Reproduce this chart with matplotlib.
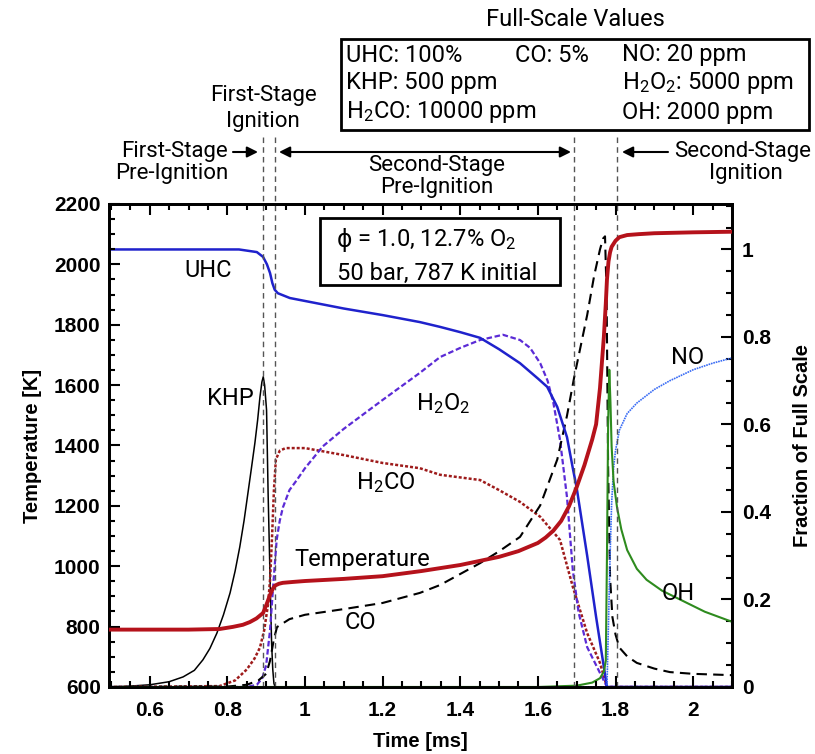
import matplotlib
matplotlib.use('Agg')
import matplotlib.pyplot as plt
from matplotlib.ticker import MultipleLocator
from matplotlib.patches import Rectangle, FancyArrowPatch

# ---------------- data ----------------
temp_t = [0.495, 0.6, 0.7, 0.78, 0.814, 0.84, 0.858, 0.875, 0.892, 0.90, 0.91, 0.917, 0.923, 0.933,
          0.943, 0.97, 1.0, 1.1, 1.2, 1.3, 1.4, 1.5, 1.55, 1.6, 1.62, 1.64, 1.66, 1.68, 1.70, 1.72,
          1.74, 1.75, 1.76, 1.77, 1.775, 1.778, 1.782, 1.786, 1.79, 1.80, 1.81, 1.83, 1.86, 1.9,
          2.0, 2.1]
temp_K = [790, 790, 790, 792, 799, 806, 815, 827, 845, 870, 905, 925, 936, 942,
          945, 948, 951, 958, 967, 984, 1004, 1031, 1050, 1077, 1095, 1118, 1150, 1198, 1262, 1335,
          1420, 1470, 1590, 1760, 1870, 1950, 2010, 2040, 2058, 2078, 2090, 2097, 2100, 2103,
          2106, 2108]

uhc_t = [0.495, 0.83, 0.876, 0.892, 0.902, 0.91, 0.916, 0.922, 0.93, 0.961, 1.1, 1.2, 1.296,
         1.348, 1.4, 1.451, 1.5, 1.554, 1.6, 1.624, 1.65, 1.675, 1.69, 1.7, 1.727, 1.75, 1.778, 2.1]
uhc_f = [1.0, 1.0, 0.994, 0.983, 0.966, 0.946, 0.923, 0.908, 0.900, 0.889, 0.865, 0.850, 0.834,
         0.823, 0.811, 0.798, 0.772, 0.74, 0.705, 0.686, 0.64, 0.571, 0.50, 0.455, 0.30, 0.16, 0.0, 0.0]

khp_t = [0.495, 0.55, 0.6, 0.65, 0.686, 0.715, 0.737, 0.755, 0.773, 0.79, 0.807, 0.82, 0.832,
         0.843, 0.853, 0.862, 0.871, 0.878, 0.884, 0.889, 0.8925, 0.896, 0.901, 0.905, 0.91,
         0.914, 0.917, 0.92, 0.923, 2.1]
khp_f = [0.0, 0.002, 0.005, 0.012, 0.023, 0.038, 0.062, 0.088, 0.123, 0.165, 0.215, 0.265, 0.32,
         0.38, 0.443, 0.5, 0.558, 0.61, 0.663, 0.697, 0.709, 0.69, 0.633, 0.443, 0.25,
         0.10, 0.04, 0.008, 0.0, 0.0]

co_t = [0.495, 0.8, 0.85, 0.88, 0.9, 0.91, 0.92, 0.928, 0.96, 1.0, 1.1, 1.2, 1.296, 1.348, 1.451,
        1.5, 1.554, 1.606, 1.65, 1.675, 1.694, 1.727, 1.745, 1.76, 1.768, 1.773, 1.777, 1.781,
        1.786, 1.792, 1.80, 1.81, 1.83, 1.855, 1.9, 1.94, 2.0, 2.1]
co_f = [0.0, 0.001, 0.005, 0.015, 0.03, 0.06, 0.11, 0.137, 0.155, 0.165, 0.178, 0.192, 0.215, 0.233,
        0.283, 0.31, 0.343, 0.415, 0.52, 0.62, 0.71, 0.85, 0.94, 1.0, 1.025, 1.03, 0.9, 0.5,
        0.25, 0.16, 0.12, 0.09, 0.07, 0.055, 0.042, 0.034, 0.03, 0.027]

h2co_t = [0.495, 0.78, 0.82, 0.85, 0.87, 0.884, 0.895, 0.905, 0.91, 0.915, 0.92, 0.925, 0.935, 0.95,
          1.0, 1.1, 1.2, 1.296, 1.348, 1.451, 1.5, 1.554, 1.606, 1.657, 1.69, 1.727, 1.76, 1.778, 2.1]
h2co_f = [0.0, 0.002, 0.015, 0.04, 0.065, 0.09, 0.13, 0.19, 0.245, 0.34, 0.45, 0.52, 0.54, 0.546,
          0.546, 0.53, 0.512, 0.50, 0.485, 0.473, 0.45, 0.423, 0.389, 0.336, 0.229, 0.123, 0.055, 0.0, 0.0]

h2o2_t = [0.495, 0.85, 0.876, 0.89, 0.9, 0.91, 0.918, 0.927, 0.935, 0.943, 0.96, 0.979, 1.0, 1.046,
          1.1, 1.2, 1.296, 1.348, 1.4, 1.451, 1.51, 1.554, 1.58, 1.606, 1.625, 1.64, 1.657, 1.675,
          1.69, 1.705, 1.727, 1.76, 1.778, 2.1]
h2o2_f = [0.0, 0.0, 0.005, 0.02, 0.05, 0.13, 0.23, 0.336, 0.38, 0.41, 0.45, 0.473, 0.50, 0.55,
          0.59, 0.656, 0.718, 0.754, 0.775, 0.793, 0.805, 0.793, 0.775, 0.74, 0.70, 0.649, 0.565, 0.434,
          0.267, 0.17, 0.091, 0.032, 0.0, 0.0]

no_t = [0.495, 1.778, 1.782, 1.786, 1.79, 1.795, 1.80, 1.81, 1.83, 1.855, 1.9, 1.94, 2.0, 2.05, 2.1]
no_f = [0.0, 0.0, 0.15, 0.3, 0.42, 0.5, 0.54, 0.587, 0.625, 0.649, 0.68, 0.70, 0.725, 0.74, 0.752]

oh_t = [0.495, 1.6, 1.7, 1.74, 1.76, 1.77, 1.775, 1.778, 1.781, 1.784, 1.787, 1.79, 1.795, 1.804,
        1.815, 1.83, 1.855, 1.88, 1.92, 1.966, 2.03, 2.1]
oh_f = [0.0, 0.0, 0.003, 0.01, 0.02, 0.035, 0.06, 0.3, 0.6, 0.725, 0.65, 0.55, 0.47, 0.41,
        0.36, 0.313, 0.27, 0.245, 0.22, 0.2, 0.172, 0.149]

stage_bounds = [0.891, 0.923, 1.694, 1.805]

x_ticks = [0.6, 0.8, 1.0, 1.2, 1.4, 1.6, 1.8, 2.0]
x_ticklabels = ['0.6', '0.8', '1', '1.2', '1.4', '1.6', '1.8', '2']
t_ticks = [600, 800, 1000, 1200, 1400, 1600, 1800, 2000, 2200]
f_ticks = [0, 0.2, 0.4, 0.6, 0.8, 1.0]
f_ticklabels = ['0', '0.2', '0.4', '0.6', '0.8', '1']

# ---------------- style ----------------
ANN = ['Roboto', 'DejaVu Sans']
TICKF = ['Liberation Sans', 'DejaVu Sans']
plt.rcParams['mathtext.fontset'] = 'custom'
plt.rcParams['mathtext.rm'] = 'Roboto'
plt.rcParams['mathtext.it'] = 'Roboto:italic'
plt.rcParams['mathtext.bf'] = 'Roboto:bold'

fig = plt.figure(figsize=(8.15, 7.54), dpi=100)
ax = fig.add_axes([0.1337, 0.0889, 0.7644, 0.6406])
ax2 = ax.twinx()

ax.set_xlim(0.495, 2.1)
ax.set_ylim(600, 2200)
ax2.set_ylim(0, 1.104)

# fraction curves
ax2.plot(khp_t, khp_f, color='black', lw=1.1, zorder=3)
ax2.plot(h2co_t, h2co_f, color='#9e1b1b', lw=1.8, ls=(0, (1.2, 0.8)), zorder=3)
ax2.plot(h2o2_t, h2o2_f, color='#5b2bd6', lw=1.6, ls=(0, (2.5, 1.2)), zorder=3)
ax2.plot(co_t, co_f, color='black', lw=1.5, ls=(0, (5, 3)), zorder=3)
ax2.plot(uhc_t, uhc_f, color='#1f22cc', lw=1.8, zorder=4)
ax2.plot(no_t, no_f, color='#3a6cf4', lw=1.2, ls=(0, (1, 0.5)), zorder=4)
ax2.plot(oh_t, oh_f, color='#2e8b1e', lw=1.5, zorder=4)

# temperature on primary axis (drawn above the fraction axis)
ax.plot(temp_t, temp_K, color='#b5121b', lw=2.8, zorder=5)
ax.set_zorder(ax2.get_zorder() + 1)
ax.patch.set_visible(False)

# stage boundary lines
for xb in stage_bounds:
    ax.axvline(xb, ymin=0, ymax=1.141, clip_on=False, color='#555555', lw=1.0,
               ls=(0, (4, 3)), zorder=1)

# ticks
ax.set_xticks(x_ticks)
ax.set_xticklabels(x_ticklabels)
ax.set_yticks(t_ticks)
ax.xaxis.set_minor_locator(MultipleLocator(0.05))
ax.yaxis.set_minor_locator(MultipleLocator(50))
ax2.set_yticks(f_ticks)
ax2.set_yticklabels(f_ticklabels)
ax2.yaxis.set_minor_locator(MultipleLocator(0.05))

ax.tick_params(which='both', direction='in', top=True, right=False, width=1.5)
ax.tick_params(which='major', length=8)
ax.tick_params(which='minor', length=4)
ax.tick_params(axis='x', which='major', pad=10)
ax.tick_params(axis='y', which='major', pad=6)
ax2.tick_params(which='both', direction='in', left=False, right=True, width=1.5)
ax2.tick_params(which='major', length=8, pad=7)
ax2.tick_params(which='minor', length=4)

for lab in ax.get_xticklabels() + ax.get_yticklabels() + ax2.get_yticklabels():
    lab.set_fontfamily(TICKF)
    lab.set_fontweight('bold')
    lab.set_fontsize(15)

for a in (ax, ax2):
    for s in a.spines.values():
        s.set_linewidth(2.0)

ax.set_xlabel('Time [ms]', fontfamily=TICKF, fontweight='bold', fontsize=14.5, labelpad=9)
ax.set_ylabel('Temperature [K]', fontfamily=TICKF, fontweight='bold', fontsize=14.5, labelpad=9)
ax2.set_ylabel('Fraction of Full Scale', fontfamily=TICKF, fontweight='bold', fontsize=14.5,
               labelpad=16)

# in-plot labels
fs = 17
ax.text(0.75, 1981, 'UHC', fontfamily=ANN, fontsize=fs, ha='center', va='center')
ax.text(0.807, 1557, 'KHP', fontfamily=ANN, fontsize=fs, ha='center', va='center')
ax.text(1.356, 1540, r'H$\mathregular{_2}$O$\mathregular{_2}$', fontfamily=ANN, fontsize=fs,
        ha='center', va='center')
ax.text(1.209, 1276, r'H$\mathregular{_2}$CO', fontfamily=ANN, fontsize=fs, ha='center', va='center')
ax.text(1.147, 1021, 'Temperature', fontfamily=ANN, fontsize=fs, ha='center', va='center')
ax.text(1.144, 812, 'CO', fontfamily=ANN, fontsize=fs, ha='center', va='center')
ax.text(1.985, 1693, 'NO', fontfamily=ANN, fontsize=fs, ha='center', va='center')
ax.text(1.961, 911, 'OH', fontfamily=ANN, fontsize=fs, ha='center', va='center')

# condition box (axes coords)
ax.add_patch(Rectangle((0.3387, 0.832), 0.3853, 0.139, transform=ax.transAxes,
                       fill=False, lw=2.0, ec='black', zorder=6, clip_on=False))
phi = ax.text(0.3660, 0.9255, 'ϕ', transform=ax.transAxes,
              fontfamily=['DejaVu Sans'], fontsize=fs, ha='left', va='center', zorder=7)
ax.annotate(r' = 1.0, 12.7% O$\mathregular{_2}$', xy=(1.0, 0.5), xycoords=phi,
            fontfamily=ANN, fontsize=fs, ha='left', va='center', zorder=7)
ax.text(0.3660, 0.857, '50 bar, 787 K initial', transform=ax.transAxes,
        fontfamily=ANN, fontsize=fs, ha='left', va='center', zorder=7)

# ---------- header annotations (figure pixel coordinates) ----------
W, H = 815.0, 754.0
def fx(p):
    return p / W
def fy(p):
    return 1 - p / H

fig.text(fx(575), fy(20), 'Full-Scale Values', fontfamily=ANN, fontsize=fs, ha='center', va='center')
fig.patches.append(Rectangle((fx(341), fy(130)), (809 - 341) / W, (130 - 39) / H,
                             transform=fig.transFigure, fill=False, lw=2.0, ec='black'))
rows = [55, 83, 112]
fig.text(fx(346), fy(rows[0]), 'UHC: 100%', fontfamily=ANN, fontsize=fs, va='center')
fig.text(fx(515), fy(rows[0]), 'CO: 5%', fontfamily=ANN, fontsize=fs, va='center')
fig.text(fx(622), fy(rows[0]), 'NO: 20 ppm', fontfamily=ANN, fontsize=fs, va='center')
fig.text(fx(346), fy(rows[1]), 'KHP: 500 ppm', fontfamily=ANN, fontsize=fs, va='center')
fig.text(fx(622), fy(rows[1]), r'H$\mathregular{_2}$O$\mathregular{_2}$: 5000 ppm', fontfamily=ANN,
         fontsize=fs, va='center')
fig.text(fx(346), fy(rows[2]), r'H$\mathregular{_2}$CO: 10000 ppm', fontfamily=ANN, fontsize=fs,
         va='center')
fig.text(fx(622), fy(rows[2]), 'OH: 2000 ppm', fontfamily=ANN, fontsize=fs, va='center')

fs_hdr = 16
fig.text(fx(263), fy(95), 'First-Stage', fontfamily=ANN, fontsize=fs_hdr, ha='center', va='center')
fig.text(fx(263), fy(121), 'Ignition', fontfamily=ANN, fontsize=fs_hdr, ha='center', va='center')

fig.text(fx(228), fy(151), 'First-Stage', fontfamily=ANN, fontsize=fs_hdr, ha='right', va='center')
fig.text(fx(172), fy(174), 'Pre-Ignition', fontfamily=ANN, fontsize=fs_hdr, ha='center', va='center')

fig.text(fx(437), fy(166), 'Second-Stage', fontfamily=ANN, fontsize=fs_hdr, ha='center', va='center')
fig.text(fx(437), fy(188), 'Pre-Ignition', fontfamily=ANN, fontsize=fs_hdr, ha='center', va='center')

fig.text(fx(743), fy(151), 'Second-Stage', fontfamily=ANN, fontsize=fs_hdr, ha='center', va='center')
fig.text(fx(746), fy(174), 'Ignition', fontfamily=ANN, fontsize=fs_hdr, ha='center', va='center')

arrow_kw = dict(lw=1.5, color='black', mutation_scale=16, shrinkA=0, shrinkB=0)
fig.add_artist(FancyArrowPatch((fx(233), fy(152)), (fx(258), fy(152)),
               transform=fig.transFigure, arrowstyle='-|>', **arrow_kw))
fig.add_artist(FancyArrowPatch((fx(279), fy(152)), (fx(571), fy(152)),
               transform=fig.transFigure, arrowstyle='<|-|>', **arrow_kw))
fig.add_artist(FancyArrowPatch((fx(668), fy(152)), (fx(622), fy(152)),
               transform=fig.transFigure, arrowstyle='-|>', **arrow_kw))

fig.savefig('out.png', dpi=100)
